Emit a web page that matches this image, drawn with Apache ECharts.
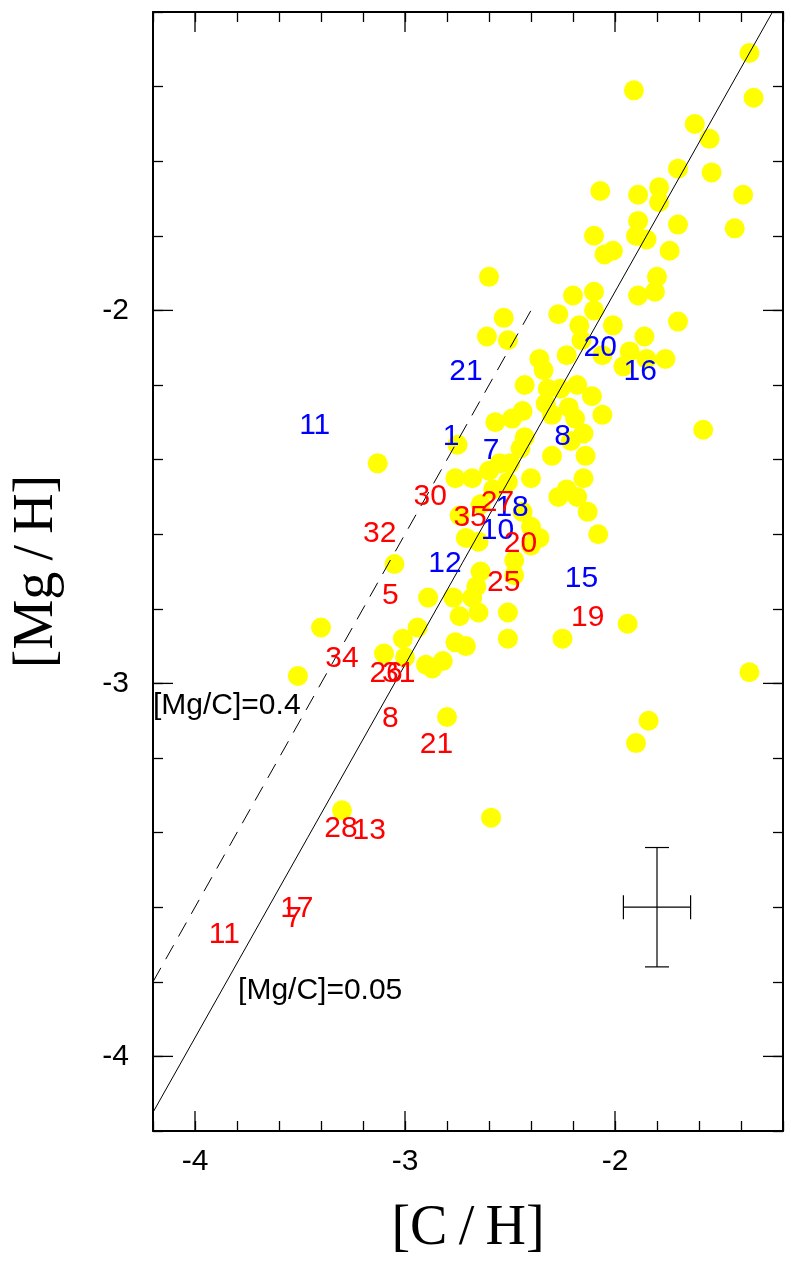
<!DOCTYPE html>
<html>
<head>
<meta charset="utf-8">
<script src="https://cdn.jsdelivr.net/npm/echarts@6/dist/echarts.min.js"></script>
<style>
  html, body { margin: 0; padding: 0; background: #fff; }
  #chart { width: 791px; height: 1265px; }
</style>
</head>
<body>
<div id="chart"></div>
<script>
// [C/H] and [Mg/H] of the yellow stars
const starsCH = [
  -1.36, -1.91, -1.34, -1.62, -1.55, -1.70, -1.54, -2.07, -1.89, -1.79,
  -1.79, -1.39, -1.89, -1.70, -1.43, -2.10, -1.90, -1.85, -2.05, -2.01,
  -1.74, -1.80, -1.81, -1.89, -1.70, -2.60, -2.20, -2.10, -2.10, -2.27,
  -2.17, -2.01, -1.86, -2.53, -2.61, -2.51, -1.93, -1.85, -1.76, -1.96,
  -2.23, -2.16, -2.06, -2.36, -2.34, -2.43, -2.32, -2.18, -2.26, -2.11,
  -2.06, -2.22, -2.33, -2.44, -2.49, -2.57, -2.30, -2.19, -2.15, -2.21,
  -2.30, -2.14, -2.43, -2.45, -2.50, -2.15, -2.40, -2.13, -1.58, -2.08,
  -1.94, -1.36, -1.84, -1.90, -2.75, -2.55, -2.76, -2.68, -2.60, -2.51,
  -2.23, -2.27, -2.18, -2.58, -2.64, -2.74, -2.44, -2.71, -2.65, -2.40,
  -2.36, -2.40, -2.48, -2.64, -3.13, -3.05, -2.48, -2.66, -2.89, -2.77,
  -2.68, -2.74, -2.65, -2.51, -2.51, -2.94, -3.01, -2.76, -2.71, -3.10,
  -3.00, -2.90, -2.82, -2.87, -2.25, -3.40, -3.51, -2.80, -3.30, -2.59
];
const starsMgH = [
  -1.31, -1.41, -1.43, -1.50, -1.54, -1.62, -1.63, -1.68, -1.69, -1.67,
  -1.71, -1.69, -1.76, -1.77, -1.78, -1.80, -1.80, -1.81, -1.85, -1.84,
  -1.84, -1.91, -1.95, -1.96, -2.03, -1.91, -1.96, -1.95, -2.00, -2.01,
  -2.04, -2.04, -2.07, -2.02, -2.07, -2.08, -2.11, -2.13, -2.13, -2.15,
  -2.12, -2.08, -2.12, -2.13, -2.16, -2.20, -2.21, -2.20, -2.21, -2.23,
  -2.28, -2.26, -2.25, -2.27, -2.29, -2.30, -2.28, -2.29, -2.33, -2.35,
  -2.39, -2.39, -2.34, -2.37, -2.41, -2.45, -2.45, -2.54, -2.32, -2.60,
  -2.84, -2.97, -3.10, -3.16, -2.36, -2.41, -2.45, -2.45, -2.43, -2.46,
  -2.48, -2.50, -2.50, -2.48, -2.52, -2.55, -2.54, -2.61, -2.62, -2.58,
  -2.61, -2.63, -2.67, -2.70, -2.41, -2.68, -2.71, -2.74, -2.77, -2.77,
  -2.77, -2.82, -2.81, -2.81, -2.88, -2.85, -2.88, -2.89, -2.90, -2.92,
  -2.93, -2.95, -2.94, -2.96, -2.88, -2.85, -2.98, -3.09, -3.34, -3.36
];

// numbered labels: [C/H], [Mg/H], text
const blueLabels = [
  [-3.43, -2.31, '11'], [-2.71, -2.165, '21'], [-2.07, -2.10, '20'],
  [-1.88, -2.165, '16'], [-2.78, -2.34, '1'], [-2.59, -2.375, '7'],
  [-2.25, -2.34, '8'], [-2.49, -2.53, '18'], [-2.56, -2.59, '10'],
  [-2.81, -2.68, '12'], [-2.16, -2.72, '15']
];
const redLabels = [
  [-2.88, -2.50, '30'], [-2.56, -2.515, '27'], [-2.69, -2.555, '35'],
  [-2.45, -2.625, '20'], [-3.12, -2.60, '32'], [-3.07, -2.765, '5'],
  [-2.53, -2.73, '25'], [-2.13, -2.825, '19'], [-3.30, -2.935, '34'],
  [-3.09, -2.975, '26'], [-3.03, -2.975, '31'], [-3.07, -3.095, '8'],
  [-2.85, -3.165, '21'], [-3.305, -3.39, '28'], [-3.17, -3.395, '13'],
  [-3.515, -3.605, '17'], [-3.53, -3.63, '7'], [-3.86, -3.675, '11']
];

// [Mg/C] reference lines (end points)
const lineMgC005 = [[-4.2, -4.15], [-1.25, -1.2]];
const lineMgC04 = [[-4.2, -3.8], [-2.4, -2.0]];
const lineNotes = [[-4.2, -3.06, '[Mg/C]=0.4'], [-3.795, -3.823, '[Mg/C]=0.05']];

// typical error bar: x, y, err x, err y
const errBar = [[-1.8, -3.6, 0.16, 0.16]];

const majorTicks = [-4, -3, -2];
const axMin = -4.2, axMax = -1.2;

const sans = "'Liberation Sans', Arial, sans-serif";
const serif = "'Liberation Serif', 'DejaVu Serif', serif";

function isWhole(v) { return Math.abs(v - Math.round(v)) < 1e-6; }

function baseAxis(pos, showLabel) {
  return {
    type: 'value', min: axMin, max: axMax, interval: 0.2, position: pos,
    axisLine: { show: true, onZero: false, lineStyle: { color: '#000', width: 2 } },
    axisTick: { show: true, inside: true, length: 10, lineStyle: { color: '#000', width: 1.3 } },
    axisLabel: {
      show: showLabel, color: '#000', fontSize: 30, fontFamily: sans,
      formatter: v => isWhole(v) ? String(Math.round(v)) : ''
    },
    splitLine: { show: false }
  };
}

const xBottom = Object.assign(baseAxis('bottom', true), {
  name: '[C\u2009/\u2009H]', nameLocation: 'middle', nameGap: 70,
  nameTextStyle: { fontFamily: serif, fontSize: 56, color: '#000' }
});
xBottom.axisLabel.margin = 16;
const yLeft = Object.assign(baseAxis('left', true), {
  name: '[Mg\u2009/\u2009H]', nameLocation: 'middle', nameGap: 88, nameRotate: 90,
  nameTextStyle: { fontFamily: serif, fontSize: 56, color: '#000' }
});
yLeft.axisLabel.margin = 24;

const chart = echarts.init(document.getElementById('chart'));

function textSeries(items, color, align) {
  return {
    type: 'custom', z: 10, clip: false,
    data: items,
    renderItem: (params, api) => {
      const p = api.coord([api.value(0), api.value(1)]);
      return {
        type: 'text', x: p[0], y: p[1],
        style: {
          text: items[params.dataIndex][2], fill: color,
          fontSize: 30, fontFamily: sans, align: align, verticalAlign: 'middle'
        }
      };
    }
  };
}

chart.setOption({
  animation: false,
  backgroundColor: '#fff',
  grid: { left: 153, right: 8, top: 12, bottom: 134 },
  xAxis: [xBottom, baseAxis('top', false)],
  yAxis: [yLeft, baseAxis('right', false)],
  series: [
    {
      type: 'scatter', symbol: 'circle', symbolSize: 20, z: 2,
      itemStyle: { color: '#ffff00', opacity: 1 },
      data: starsCH.map((x, i) => [x, starsMgH[i]])
    },
    {
      type: 'line', data: lineMgC005, symbol: 'none', z: 5,
      lineStyle: { color: '#000', width: 1 }
    },
    {
      type: 'line', data: lineMgC04, symbol: 'none', z: 5,
      lineStyle: { color: '#000', width: 1, type: [16, 10] }
    },
    {
      type: 'custom', z: 5, clip: false,
      data: majorTicks.map(v => [v, v]),
      renderItem: (params, api) => {
        const v = api.value(0);
        const b = api.coord([v, axMin]), t = api.coord([v, axMax]);
        const l = api.coord([axMin, v]), r = api.coord([axMax, v]);
        const st = { stroke: '#000', lineWidth: 1.3 };
        return {
          type: 'group', children: [
            { type: 'line', shape: { x1: b[0], y1: b[1], x2: b[0], y2: b[1] - 20 }, style: st },
            { type: 'line', shape: { x1: t[0], y1: t[1], x2: t[0], y2: t[1] + 20 }, style: st },
            { type: 'line', shape: { x1: l[0], y1: l[1], x2: l[0] + 20, y2: l[1] }, style: st },
            { type: 'line', shape: { x1: r[0], y1: r[1], x2: r[0] - 20, y2: r[1] }, style: st }
          ]
        };
      }
    },
    {
      type: 'custom', z: 5,
      data: errBar,
      renderItem: (params, api) => {
        const x = api.value(0), y = api.value(1), ex = api.value(2), ey = api.value(3);
        const l = api.coord([x - ex, y]), r = api.coord([x + ex, y]);
        const t = api.coord([x, y + ey]), b = api.coord([x, y - ey]);
        const st = { stroke: '#000', lineWidth: 1.2 };
        const cap = 12;
        return {
          type: 'group', children: [
            { type: 'line', shape: { x1: l[0], y1: l[1], x2: r[0], y2: r[1] }, style: st },
            { type: 'line', shape: { x1: t[0], y1: t[1], x2: b[0], y2: b[1] }, style: st },
            { type: 'line', shape: { x1: l[0], y1: l[1] - cap, x2: l[0], y2: l[1] + cap }, style: st },
            { type: 'line', shape: { x1: r[0], y1: r[1] - cap, x2: r[0], y2: r[1] + cap }, style: st },
            { type: 'line', shape: { x1: t[0] - cap, y1: t[1], x2: t[0] + cap, y2: t[1] }, style: st },
            { type: 'line', shape: { x1: b[0] - cap, y1: b[1], x2: b[0] + cap, y2: b[1] }, style: st }
          ]
        };
      }
    },
    textSeries(blueLabels, '#0000ff', 'center'),
    textSeries(redLabels, '#ff0000', 'center'),
    textSeries(lineNotes, '#000', 'left')
  ]
});
</script>
</body>
</html>
